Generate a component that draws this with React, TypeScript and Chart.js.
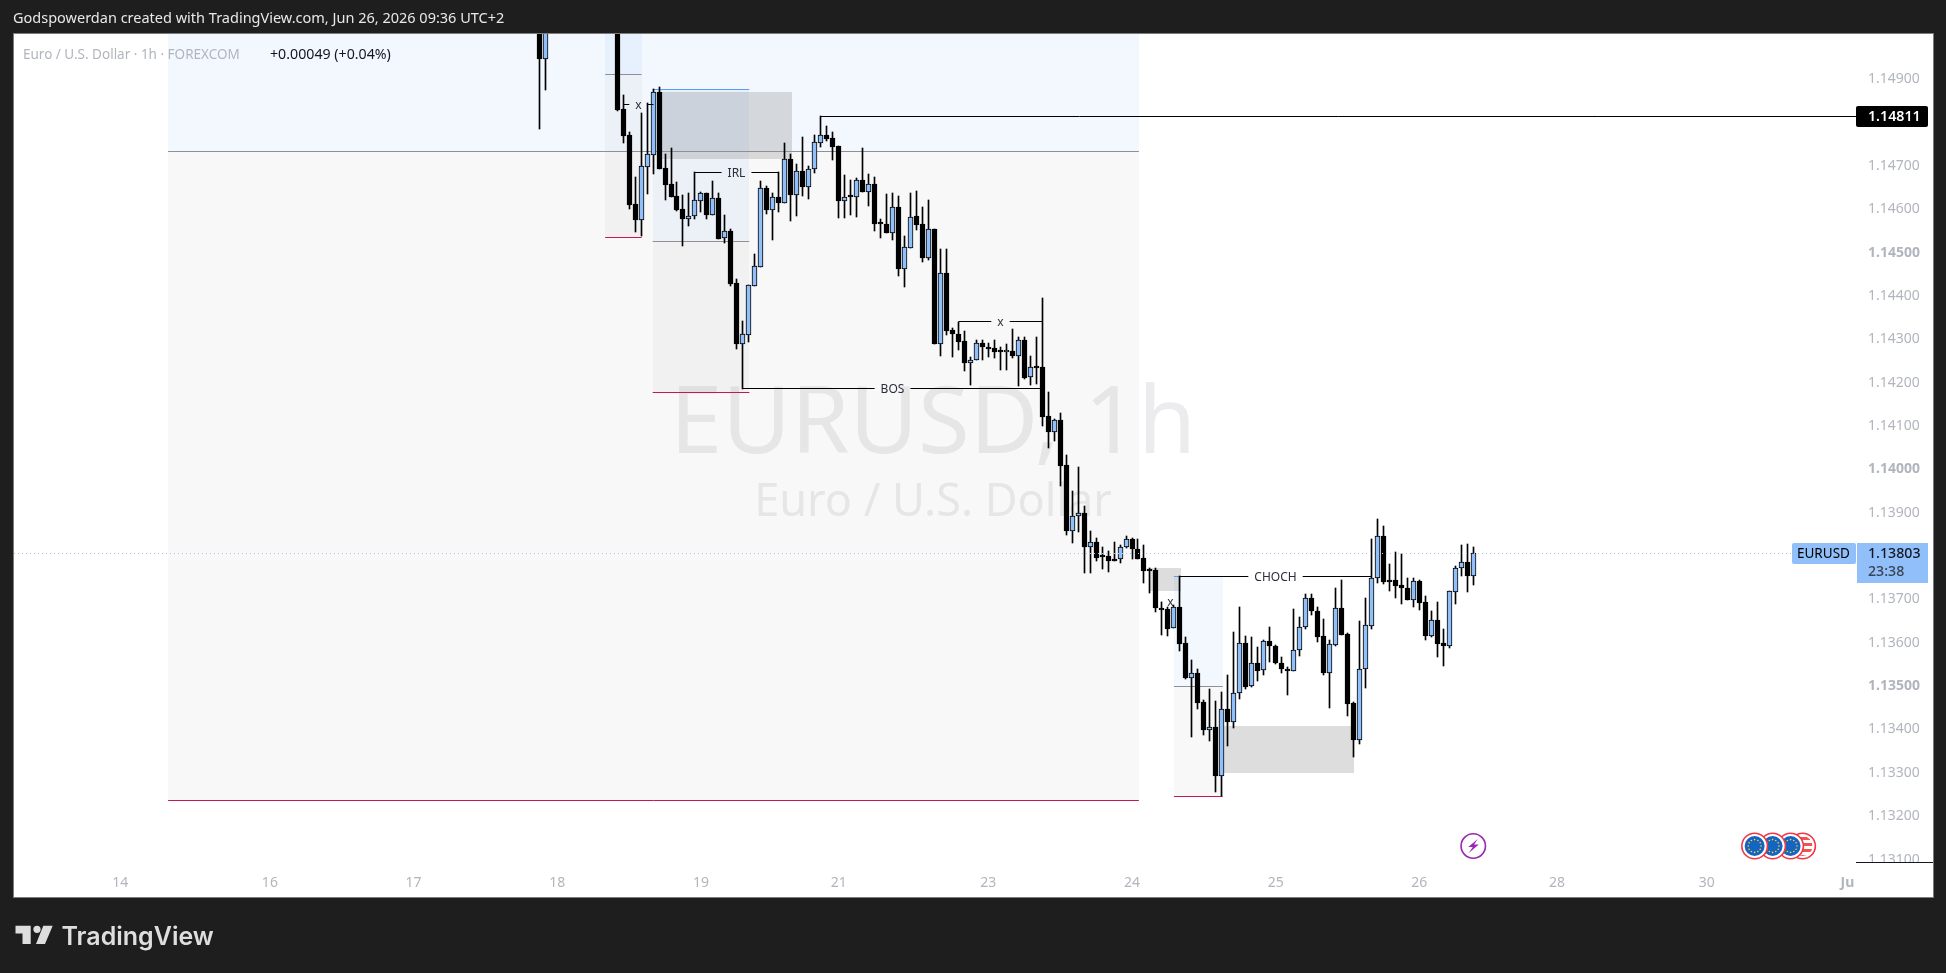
import React, { useEffect, useRef } from "react";
import { Chart, registerables } from "chart.js";

Chart.register(...registerables);

const FONT = '"Noto Sans", sans-serif';
const UP = "#90bff9";
const N = null;

// Candle index 0 is the first one whose wick shows at the top of the pane; 2..12 trade above the visible range.
const opens = [1.1512, 1.14944, N, N, N, N, N, N, N, N, N, N, N, 1.154, 1.14827, 1.14768, 1.14609, 1.14572, 1.14695, 1.14722, 1.14866, 1.14691, 1.14655, 1.14627, 1.14597, 1.14574, 1.14582, 1.14616, 1.14633, 1.14584, 1.14622, 1.14531, 1.14546, 1.14426, 1.14286, 1.14307, 1.1442, 1.14464, 1.14645, 1.14595, 1.14626, 1.14612, 1.14712, 1.1463, 1.14686, 1.14649, 1.14689, 1.1475, 1.14767, 1.1476, 1.14742, 1.14616, 1.14627, 1.14624, 1.14665, 1.14637, 1.14654, 1.14565, 1.14562, 1.14543, 1.14601, 1.14459, 1.14508, 1.14581, 1.14562, 1.14485, 1.1455, 1.14286, 1.14449, 1.14318, 1.1431, 1.14292, 1.14243, 1.14249, 1.14287, 1.1428, 1.14276, 1.14269, 1.14267, 1.14269, 1.14259, 1.14296, 1.14209, 1.14233, 1.14232, 1.14119, 1.14083, 1.1411, 1.14006, 1.13855, 1.13888, 1.13897, 1.13818, 1.13828, 1.13797, 1.13796, 1.13789, 1.13789, 1.13817, 1.13837, 1.13814, 1.13792, 1.13765, 1.13764, 1.13677, 1.13674, 1.1363, 1.1368, 1.13595, 1.13516, 1.13526, 1.1346, 1.13396, 1.13402, 1.1329, 1.13443, 1.13414, 1.1348, 1.13595, 1.13496, 1.13549, 1.13533, 1.136, 1.1359, 1.13551, 1.13537, 1.13532, 1.13581, 1.13633, 1.13699, 1.13671, 1.13612, 1.13527, 1.13592, 1.13676, 1.13617, 1.13457, 1.13373, 1.13535, 1.13636, 1.13747, 1.13842, 1.13741, 1.13741, 1.1373, 1.13724, 1.13696, 1.13739, 1.1369, 1.13613, 1.13648, 1.13596, 1.1359, 1.13714, 1.13768, 1.13782, 1.13751];
const closes = [1.14944, 1.1515, N, N, N, N, N, N, N, N, N, N, N, 1.14825, 1.14765, 1.14606, 1.14572, 1.14696, 1.14724, 1.14866, 1.14689, 1.14652, 1.14625, 1.14595, 1.14574, 1.14582, 1.14617, 1.14633, 1.14583, 1.14622, 1.14529, 1.14546, 1.14424, 1.14286, 1.14308, 1.14421, 1.14465, 1.14645, 1.14595, 1.14626, 1.14612, 1.14712, 1.14629, 1.14686, 1.14649, 1.14689, 1.14751, 1.14767, 1.14759, 1.14741, 1.14616, 1.14625, 1.14625, 1.14665, 1.14637, 1.14654, 1.14563, 1.14563, 1.14542, 1.14601, 1.14459, 1.14509, 1.14579, 1.1456, 1.14484, 1.1455, 1.14286, 1.14449, 1.14316, 1.14309, 1.14291, 1.14243, 1.1425, 1.14287, 1.14279, 1.14275, 1.14268, 1.14268, 1.14269, 1.14258, 1.14296, 1.14208, 1.14232, 1.14231, 1.14118, 1.14083, 1.1411, 1.14005, 1.13855, 1.13888, 1.13897, 1.13818, 1.13828, 1.13793, 1.13795, 1.13786, 1.13786, 1.13817, 1.13837, 1.13813, 1.1379, 1.13763, 1.13763, 1.13676, 1.13673, 1.13629, 1.1368, 1.13594, 1.13515, 1.13526, 1.13458, 1.13395, 1.13402, 1.13289, 1.13443, 1.13414, 1.1348, 1.13595, 1.13495, 1.13549, 1.13532, 1.136, 1.1359, 1.1355, 1.13537, 1.13532, 1.13581, 1.13634, 1.13699, 1.1367, 1.1361, 1.13527, 1.13593, 1.13676, 1.13615, 1.13456, 1.13373, 1.13535, 1.13637, 1.13747, 1.13842, 1.13737, 1.13737, 1.13727, 1.13723, 1.13695, 1.13738, 1.13689, 1.13612, 1.13648, 1.13594, 1.13589, 1.13715, 1.13768, 1.13782, 1.1375, 1.13803];
const highs = [1.152, 1.152, N, N, N, N, N, N, N, N, N, N, N, 1.1542, 1.1486, 1.14774, 1.14672, 1.14818, 1.14841, 1.14875, 1.14878, 1.14724, 1.14738, 1.14659, 1.14629, 1.14633, 1.14682, 1.14637, 1.14633, 1.14662, 1.14635, 1.14583, 1.1455, 1.14435, 1.14339, 1.14423, 1.14493, 1.14661, 1.14651, 1.14635, 1.14682, 1.14749, 1.14725, 1.14702, 1.14763, 1.14696, 1.14767, 1.14811, 1.14788, 1.14774, 1.14742, 1.14675, 1.14665, 1.14668, 1.14738, 1.14679, 1.1467, 1.14573, 1.14632, 1.14635, 1.14627, 1.14535, 1.14633, 1.14638, 1.14601, 1.14619, 1.1455, 1.14506, 1.14504, 1.14323, 1.14337, 1.14316, 1.14255, 1.14295, 1.14295, 1.14289, 1.14295, 1.14279, 1.14286, 1.1432, 1.14303, 1.14301, 1.14258, 1.14302, 1.14391, 1.14174, 1.14112, 1.14126, 1.1403, 1.13946, 1.14002, 1.13912, 1.13854, 1.13838, 1.13818, 1.13808, 1.13828, 1.13822, 1.13843, 1.13839, 1.13835, 1.13822, 1.13769, 1.13768, 1.13691, 1.1368, 1.13683, 1.1375, 1.1361, 1.13558, 1.13537, 1.13464, 1.1349, 1.13462, 1.13482, 1.13522, 1.13621, 1.13679, 1.13612, 1.1361, 1.13587, 1.13604, 1.13633, 1.13592, 1.13563, 1.13541, 1.13674, 1.13656, 1.1371, 1.13709, 1.1368, 1.13651, 1.13604, 1.13722, 1.13741, 1.13618, 1.13459, 1.13646, 1.137, 1.13836, 1.13882, 1.13866, 1.13778, 1.13806, 1.13801, 1.13746, 1.13746, 1.13741, 1.13704, 1.1367, 1.1369, 1.13628, 1.13716, 1.13773, 1.13822, 1.13824, 1.13817];
const lows = [1.14782, 1.14872, N, N, N, N, N, N, N, N, N, N, N, 1.14823, 1.14749, 1.14597, 1.14544, 1.14535, 1.14632, 1.14679, 1.14689, 1.14618, 1.14625, 1.14592, 1.14512, 1.14558, 1.14574, 1.14591, 1.14574, 1.14583, 1.14528, 1.14519, 1.14419, 1.14274, 1.14182, 1.14291, 1.1442, 1.14464, 1.14586, 1.14526, 1.14591, 1.14612, 1.14569, 1.14581, 1.14627, 1.1462, 1.14681, 1.14741, 1.14755, 1.1471, 1.14576, 1.14576, 1.14583, 1.14579, 1.14637, 1.14604, 1.14546, 1.14531, 1.14542, 1.14526, 1.14442, 1.14418, 1.14508, 1.14549, 1.14476, 1.14479, 1.14286, 1.14259, 1.14306, 1.14256, 1.14272, 1.14224, 1.14191, 1.14249, 1.1425, 1.14256, 1.14253, 1.14226, 1.14226, 1.14253, 1.14189, 1.14206, 1.14191, 1.14193, 1.14097, 1.14046, 1.14063, 1.13958, 1.13845, 1.13827, 1.13853, 1.13758, 1.13758, 1.13786, 1.13767, 1.1376, 1.13786, 1.13781, 1.13816, 1.1379, 1.1379, 1.13734, 1.13712, 1.13668, 1.13614, 1.13612, 1.1363, 1.13578, 1.13513, 1.13379, 1.13444, 1.13384, 1.1337, 1.13252, 1.13244, 1.13358, 1.134, 1.13467, 1.1349, 1.13495, 1.13508, 1.13522, 1.13553, 1.13548, 1.13527, 1.13476, 1.13532, 1.13567, 1.13628, 1.1366, 1.13599, 1.13522, 1.13446, 1.13589, 1.13615, 1.13427, 1.13333, 1.13363, 1.13492, 1.13628, 1.13734, 1.13732, 1.13716, 1.137, 1.13686, 1.13695, 1.13679, 1.13672, 1.13603, 1.1361, 1.13564, 1.13543, 1.13584, 1.13686, 1.1375, 1.13713, 1.1373];

const priceTicks = [1.149, 1.147, 1.146, 1.145, 1.144, 1.143, 1.142, 1.141, 1.14, 1.139, 1.137, 1.136, 1.135, 1.134, 1.133, 1.132, 1.131];
const boldPrices = [1.145, 1.14, 1.135];
const dayTicks = [-70, -45, -21, 3, 27, 50, 75, 99, 123, 147, 170, 195, 218.5];
const dayLabels = ["14", "16", "17", "18", "19", "21", "23", "24", "25", "26", "28", "30", "Ju"];

const lastPrice = 1.13803;
const swingHigh = 1.14811;

// [from candle, to candle, top price, bottom price]
const blueZones = [[-62, 100.15, 1.1505, 1.14729], [11, 17.1, 1.1505, 1.14908], [18.94, 35.08, 1.14873, 1.14523], [106, 114.15, 1.1375, 1.13496]];
const greyZones = [[-62, 100.15, 1.14729, 1.13233], [11, 17.1, 1.14908, 1.14532], [18.94, 35.08, 1.14523, 1.14174], [106, 114.15, 1.13496, 1.13243]];
const supplyBoxes = [[20, 42.2, 1.14867, 1.14713], [101.9, 107.2, 1.13769, 1.13717], [114.2, 136.1, 1.13405, 1.13297]];
// [from candle, to candle, price]
const midLines = [[-62, 100.15, 1.14729], [11, 17.1, 1.14908], [18.94, 35.08, 1.14523], [106, 114.15, 1.13496]];
const lowLines = [[-62, 100.15, 1.13233], [11, 17.1, 1.14532], [18.94, 35.08, 1.14174], [106, 114.15, 1.13243]];
const topLines = [[18.94, 35.08, 1.14873], [106, 114.15, 1.1375]];
const labelledLines = [
  { text: "x", from: 14, to: 19, price: 1.14839 },
  { text: "IRL", from: 26, to: 40, price: 1.14682 },
  { text: "BOS", from: 34, to: 84, price: 1.14183 },
  { text: "x", from: 70, to: 84, price: 1.14337 },
  { text: "CHOCH", from: 107, to: 139, price: 1.1375 },
  { text: "x", from: 104, to: 107, price: 1.13691 },
];
const flashEvents = [156];
const euEvents = [209, 206, 203];
const usEvents = [211];

const candleIdx = highs.map((_, i) => i).filter((i) => highs[i] !== null);

function snap(v: number) {
  return Math.round(v - 0.5) + 0.5;
}

function roundedRect(ctx: any, x: number, y: number, w: number, h: number, r: number) {
  ctx.beginPath();
  ctx.roundRect(x, y, w, h, r);
  ctx.fill();
}

const tvPlugin = {
  id: "tv",
  afterDatasetsUpdate(chart: any) {
    chart.getSortedVisibleDatasetMetas().forEach((meta: any) => {
      meta.data.forEach((el: any) => {
        el.x = snap(el.x);
        el.y = Math.round(el.y);
        el.base = Math.round(el.base);
      });
    });
  },
  beforeDraw(chart: any) {
    const ctx = chart.ctx;
    ctx.save();
    ctx.fillStyle = "#1e1e1e";
    ctx.fillRect(0, 0, 1946, 973);
    ctx.fillStyle = "#ffffff";
    ctx.fillRect(14, 34, 1919, 863);
    ctx.strokeStyle = "#7c7c7c";
    ctx.lineWidth = 1;
    ctx.strokeRect(13.5, 33.5, 1920, 864);

    ctx.textBaseline = "middle";
    ctx.fillStyle = "#e8e8e8";
    ctx.font = `14.5px ${FONT}`;
    ctx.fillText("Godspowerdan created with TradingView.com, Jun 26, 2026 09:36 UTC+2", 13, 19);

    // TradingView wordmark
    ctx.fillStyle = "#dedede";
    ctx.beginPath();
    ctx.moveTo(15.5, 925.7);
    ctx.lineTo(30.7, 925.7);
    ctx.lineTo(30.7, 944);
    ctx.lineTo(22.5, 944);
    ctx.lineTo(22.5, 933.5);
    ctx.lineTo(15.5, 933.5);
    ctx.closePath();
    ctx.fill();
    ctx.beginPath();
    ctx.arc(37, 929.3, 3.6, 0, Math.PI * 2);
    ctx.fill();
    ctx.beginPath();
    ctx.moveTo(43.3, 925.7);
    ctx.lineTo(52.7, 925.7);
    ctx.lineTo(45, 944);
    ctx.lineTo(36, 944);
    ctx.closePath();
    ctx.fill();
    ctx.textBaseline = "alphabetic";
    ctx.font = `600 25px Inter, ${FONT}`;
    ctx.fillText("TradingView", 61.5, 944.5);
    ctx.restore();
  },
  beforeDatasetsDraw(chart: any) {
    const { ctx, chartArea: a, scales } = chart;
    const X = (v: number) => scales.x.getPixelForValue(v);
    const Y = (v: number) => scales.y.getPixelForValue(v);
    ctx.save();
    ctx.beginPath();
    ctx.rect(a.left, a.top, a.right - a.left, a.bottom - a.top);
    ctx.clip();

    const cx = 933;
    ctx.textAlign = "center";
    ctx.textBaseline = "alphabetic";
    ctx.fillStyle = "rgba(120,123,134,0.14)";
    ctx.font = `94px ${FONT}`;
    ctx.fillText("EURUSD, 1h", cx, 453);
    ctx.font = `45px ${FONT}`;
    ctx.fillText("Euro / U.S. Dollar", cx, 516);
    ctx.textAlign = "left";

    const box = (z: number[], fill: string) => {
      ctx.fillStyle = fill;
      const x0 = Math.round(X(z[0]));
      const x1 = Math.round(X(z[1]));
      const y0 = Math.round(Y(z[2]));
      const y1 = Math.round(Y(z[3]));
      ctx.fillRect(x0, y0, x1 - x0, y1 - y0);
    };
    blueZones.forEach((z) => box(z, "rgba(33,120,243,0.055)"));
    greyZones.forEach((z) => box(z, "rgba(120,123,134,0.055)"));
    supplyBoxes.forEach((z) => box(z, "rgba(120,120,120,0.25)"));

    const hline = (l: number[], color: string) => {
      ctx.strokeStyle = color;
      ctx.lineWidth = 1;
      ctx.beginPath();
      const y = snap(Y(l[2]));
      ctx.moveTo(X(l[0]), y);
      ctx.lineTo(X(l[1]), y);
      ctx.stroke();
    };
    midLines.forEach((l) => hline(l, "#8f9094"));
    lowLines.forEach((l) => hline(l, "#c2185b"));
    topLines.forEach((l) => hline(l, "#5b9cf6"));
    ctx.restore();
  },
  afterDatasetsDraw(chart: any) {
    const { ctx, chartArea: a, scales } = chart;
    const X = (v: number) => scales.x.getPixelForValue(v);
    const Y = (v: number) => scales.y.getPixelForValue(v);
    ctx.save();
    ctx.beginPath();
    ctx.rect(a.left, a.top, a.right - a.left, a.bottom - a.top);
    ctx.clip();

    // last price dotted line
    ctx.strokeStyle = "#a9c6ee";
    ctx.lineWidth = 1;
    ctx.setLineDash([1, 3]);
    ctx.beginPath();
    ctx.moveTo(a.left, snap(Y(lastPrice)));
    ctx.lineTo(1792, snap(Y(lastPrice)));
    ctx.stroke();
    ctx.setLineDash([]);

    // swing high line
    ctx.strokeStyle = "#000000";
    ctx.beginPath();
    ctx.moveTo(snap(X(47)), snap(Y(swingHigh)));
    ctx.lineTo(a.right, snap(Y(swingHigh)));
    ctx.stroke();

    // labelled structure lines
    ctx.font = `12px ${FONT}`;
    ctx.textAlign = "center";
    ctx.textBaseline = "middle";
    labelledLines.forEach((l) => {
      const x0 = snap(X(l.from));
      const x1 = snap(X(l.to));
      const y = snap(Y(l.price));
      const mid = (x0 + x1) / 2;
      const gap = ctx.measureText(l.text).width / 2 + 6;
      ctx.strokeStyle = "#000000";
      ctx.beginPath();
      ctx.moveTo(x0, y);
      ctx.lineTo(mid - gap, y);
      ctx.moveTo(mid + gap, y);
      ctx.lineTo(x1, y);
      ctx.stroke();
      ctx.fillStyle = "#2a2e39";
      ctx.fillText(l.text, mid, y + 1);
    });
    ctx.textAlign = "left";

    // legend
    ctx.fillStyle = "#b2b5be";
    ctx.font = `13.5px ${FONT}`;
    ctx.fillText("Euro / U.S. Dollar · 1h · FOREXCOM", 23, 55);
    ctx.fillStyle = "#131722";
    ctx.font = `14.2px ${FONT}`;
    ctx.fillText("+0.00049 (+0.04%)", 270, 55);

    // event markers
    const markerY = 846;
    flashEvents.forEach((k) => {
      const x = X(k);
      ctx.strokeStyle = "#9c27b0";
      ctx.lineWidth = 1.6;
      ctx.beginPath();
      ctx.arc(x, markerY, 12.2, 0, Math.PI * 2);
      ctx.stroke();
      ctx.fillStyle = "#9c27b0";
      ctx.beginPath();
      ctx.moveTo(x + 4.5, markerY - 7);
      ctx.lineTo(x - 5, markerY + 1);
      ctx.lineTo(x - 0.5, markerY + 1);
      ctx.lineTo(x - 4.5, markerY + 7);
      ctx.lineTo(x + 5.5, markerY - 1.5);
      ctx.lineTo(x + 0.8, markerY - 1.5);
      ctx.closePath();
      ctx.fill();
    });
    const ring = (x: number) => {
      ctx.fillStyle = "#ffffff";
      ctx.beginPath();
      ctx.arc(x, markerY, 12.8, 0, Math.PI * 2);
      ctx.fill();
      ctx.strokeStyle = "#f23645";
      ctx.lineWidth = 1.6;
      ctx.stroke();
    };
    usEvents.forEach((k) => {
      const x = X(k);
      ring(x);
      ctx.save();
      ctx.beginPath();
      ctx.arc(x, markerY, 10, 0, Math.PI * 2);
      ctx.clip();
      ctx.fillStyle = "#ef5350";
      for (let s = -9; s < 10; s += 6) ctx.fillRect(x - 10, markerY + s, 20, 3);
      ctx.restore();
    });
    euEvents.forEach((k) => {
      const x = X(k);
      ring(x);
      ctx.fillStyle = "#1565c0";
      ctx.beginPath();
      ctx.arc(x, markerY, 10, 0, Math.PI * 2);
      ctx.fill();
      ctx.fillStyle = "#fdd835";
      for (let s = 0; s < 12; s++) {
        const t = (s * Math.PI) / 6;
        ctx.beginPath();
        ctx.arc(x + 6.4 * Math.cos(t), markerY + 6.4 * Math.sin(t), 0.8, 0, Math.PI * 2);
        ctx.fill();
      }
    });
    ctx.restore();
  },
  afterDraw(chart: any) {
    const { ctx, scales } = chart;
    const Y = (v: number) => scales.y.getPixelForValue(v);
    ctx.save();
    // price axis base line, trimming the lowest tick label
    ctx.fillStyle = "#ffffff";
    ctx.fillRect(1856, 862, 77, 8);
    ctx.fillStyle = "#131722";
    ctx.fillRect(1856, 862, 77, 1);

    ctx.textBaseline = "middle";
    const lastY = Math.round(Y(lastPrice));
    // symbol tag
    ctx.fillStyle = UP;
    roundedRect(ctx, 1792, lastY - 10, 64, 21, 2);
    ctx.fillRect(1857, lastY - 10, 71, 40);
    ctx.fillStyle = "#000000";
    ctx.font = `13.5px ${FONT}`;
    ctx.fillText("EURUSD", 1797, lastY + 1);
    ctx.fillStyle = "#131722";
    ctx.font = `500 14.2px ${FONT}`;
    ctx.fillText("1.13803", 1868, lastY + 1);
    ctx.fillStyle = "#3a4250";
    ctx.fillText("23:38", 1868, lastY + 19);

    const hiY = Math.round(Y(swingHigh));
    ctx.fillStyle = "#000000";
    roundedRect(ctx, 1856, hiY - 10, 72, 21, 2);
    ctx.fillStyle = "#ffffff";
    ctx.font = `600 14.2px ${FONT}`;
    ctx.fillText("1.14811", 1868, hiY + 1);
    ctx.restore();
  },
};

export default function App() {
  const ref = useRef<HTMLCanvasElement | null>(null);
  useEffect(() => {
    if (!ref.current) return;
    const wicks = candleIdx.map((i) => ({ x: i, y: [lows[i], highs[i]] }));
    const bodies = candleIdx.map((i) => ({ x: i, y: [opens[i], closes[i]] }));
    const chart = new Chart(ref.current, {
      type: "bar",
      data: {
        datasets: [
          { label: "Wick", data: wicks as any, backgroundColor: "#000000", barThickness: 1, order: 2, grouped: false },
          {
            label: "Body",
            data: bodies as any,
            backgroundColor: candleIdx.map((i) => ((closes[i] as number) >= (opens[i] as number) ? UP : "#000000")),
            borderColor: "#000000",
            borderWidth: 1,
            borderSkipped: false,
            barThickness: 5,
            minBarLength: 2,
            order: 1,
            grouped: false,
          },
        ],
      } as any,
      options: {
        responsive: false,
        animation: false,
        devicePixelRatio: 1,
        layout: { padding: { left: 14, top: 34, right: 13, bottom: 76 } },
        plugins: { legend: { display: false }, tooltip: { enabled: false } },
        scales: {
          x: {
            type: "linear",
            offset: false,
            min: -87.74,
            max: 219.93,
            bounds: "data",
            border: { display: false },
            grid: { display: false, offset: false, drawTicks: false },
            afterBuildTicks: (s: any) => {
              s.ticks = dayTicks.map((value) => ({ value }));
            },
            afterFit: (s: any) => {
              s.height = 35;
            },
            ticks: {
              autoSkip: false,
              maxRotation: 0,
              minRotation: 0,
              padding: 13,
              color: "#b2b5be",
              font: (c: any) => ({ family: FONT, size: 14, weight: c.index === dayTicks.length - 1 ? "700" : "400" }),
              callback: (v: any) => dayLabels[dayTicks.indexOf(v)],
            },
          },
          y: {
            type: "linear",
            position: "right",
            min: 1.130909,
            max: 1.150009,
            bounds: "data",
            border: { display: false },
            grid: { display: false, drawTicks: false },
            afterBuildTicks: (s: any) => {
              s.ticks = priceTicks.map((value) => ({ value }));
            },
            afterFit: (s: any) => {
              s.width = 77;
            },
            ticks: {
              autoSkip: false,
              padding: 12,
              labelOffset: 1.5,
              color: "#b2b5be",
              font: (c: any) => ({
                family: FONT,
                size: 14,
                weight: c.tick && boldPrices.includes(c.tick.value) ? "700" : "400",
              }),
              callback: (v: any) => Number(v).toFixed(5),
            },
          },
        },
      } as any,
      plugins: [tvPlugin as any],
    });
    return () => chart.destroy();
  }, []);
  return (
    <div style={{ position: "fixed", left: 0, top: 0, width: 1946, height: 973, overflow: "hidden" }}>
      <canvas ref={ref} width={1946} height={973} style={{ display: "block", width: 1946, height: 973 }} />
    </div>
  );
}
